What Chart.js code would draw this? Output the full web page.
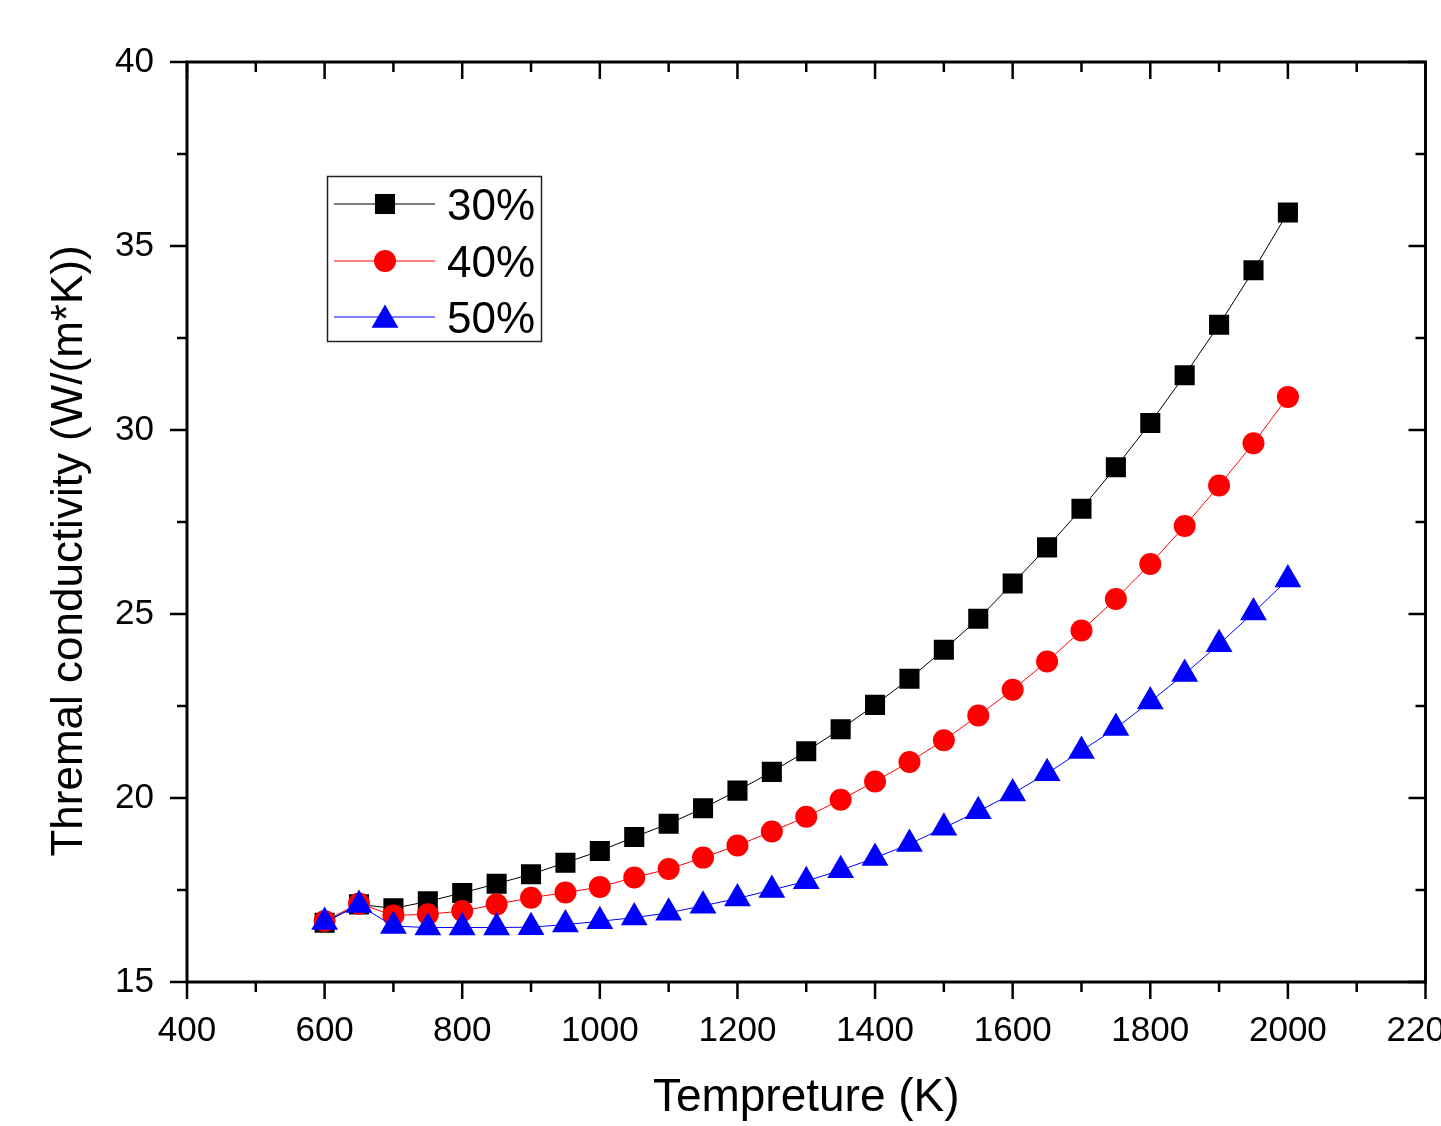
<!DOCTYPE html>
<html>
<head>
<meta charset="utf-8">
<script src="https://cdn.jsdelivr.net/npm/chart.js@4/dist/chart.umd.min.js"></script>
<style>
html,body{margin:0;padding:0;background:#fff;}
#wrap{width:1441px;height:1126px;position:relative;}
</style>
</head>
<body>
<div id="wrap"><canvas id="c" width="1441" height="1126"></canvas></div>
<script>
const temperatures = [600,650,700,750,800,850,900,950,1000,1050,1100,1150,1200,1250,1300,1350,1400,1450,1500,1550,1600,1650,1700,1750,1800,1850,1900,1950,2000];
const series30 = [16.61,17.11,17.00,17.19,17.42,17.67,17.93,18.24,18.56,18.94,19.30,19.72,20.20,20.71,21.27,21.87,22.53,23.24,24.03,24.87,25.83,26.81,27.86,28.99,30.19,31.49,32.86,34.34,35.91];
const series40 = [16.66,17.13,16.81,16.84,16.93,17.11,17.29,17.43,17.58,17.84,18.07,18.38,18.71,19.09,19.49,19.95,20.45,20.98,21.57,22.24,22.94,23.71,24.55,25.41,26.36,27.39,28.49,29.64,30.90];
const series50 = [16.63,17.09,16.52,16.48,16.48,16.48,16.49,16.56,16.65,16.75,16.88,17.07,17.27,17.50,17.74,18.04,18.37,18.75,19.19,19.64,20.12,20.67,21.28,21.90,22.62,23.37,24.18,25.04,25.94];
const seriesLabels = ['30%','40%','50%'];
const xTickValues = [400,600,800,1000,1200,1400,1600,1800,2000,2200];
const yTickValues = [15,20,25,30,35,40];
const xMinorValues = [500,700,900,1100,1300,1500,1700,1900,2100];
const yMinorValues = [17.5,22.5,27.5,32.5,37.5];
const xTitle = 'Tempreture (K)';
const yTitle = 'Thremal conductivity (W/(m*K))';

const FONT = 'Arial, "Liberation Sans", Helvetica, sans-serif';

function mk(arr){ return temperatures.map((t,i)=>({x:t,y:arr[i]})); }

const frameTicks = {
  id:'frameTicks',
  afterDatasetsDraw(chart){
    const {ctx, chartArea:a, scales:{x,y}} = chart;
    ctx.save();
    ctx.strokeStyle = '#000';
    ctx.lineWidth = 2.5;
    ctx.lineCap = 'butt';
    const MAJ = 17, MIN = 10;
    ctx.beginPath();
    xTickValues.forEach(v=>{
      const p = x.getPixelForValue(v);
      ctx.moveTo(p, a.bottom); ctx.lineTo(p, a.bottom+MAJ);
      ctx.moveTo(p, a.top); ctx.lineTo(p, a.top+MAJ);
    });
    xMinorValues.forEach(v=>{
      const p = x.getPixelForValue(v);
      ctx.moveTo(p, a.bottom); ctx.lineTo(p, a.bottom+MIN);
      ctx.moveTo(p, a.top); ctx.lineTo(p, a.top+MIN);
    });
    yTickValues.forEach(v=>{
      const p = y.getPixelForValue(v);
      ctx.moveTo(a.left, p); ctx.lineTo(a.left-MAJ, p);
      ctx.moveTo(a.right, p); ctx.lineTo(a.right-MAJ, p);
    });
    yMinorValues.forEach(v=>{
      const p = y.getPixelForValue(v);
      ctx.moveTo(a.left, p); ctx.lineTo(a.left-MIN, p);
      ctx.moveTo(a.right, p); ctx.lineTo(a.right-MIN, p);
    });
    ctx.stroke();
    ctx.lineWidth = 3;
    ctx.strokeRect(a.left, a.top, a.right-a.left, a.bottom-a.top);
    ctx.restore();
  }
};

const yTitlePlugin = {
  id:'yTitlePlugin',
  afterDraw(chart){
    const ctx = chart.ctx;
    ctx.save();
    ctx.translate(82, 551);
    ctx.rotate(-Math.PI/2);
    ctx.fillStyle = '#000';
    ctx.font = '44px ' + FONT;
    ctx.textAlign = 'center';
    ctx.textBaseline = 'alphabetic';
    ctx.fillText(yTitle, 0, 0);
    ctx.restore();
  }
};

const boxLegend = {
  id:'boxLegend',
  afterDraw(chart){
    const ctx = chart.ctx;
    ctx.save();
    ctx.strokeStyle = '#222';
    ctx.lineWidth = 1.5;
    ctx.strokeRect(327.5, 176.5, 214, 165);
    const rowsY = [204, 261, 317];
    seriesLabels.forEach((lab,i)=>{
      const ds = chart.data.datasets.find(d=>d.label===lab);
      const yy = rowsY[i];
      ctx.strokeStyle = ds.borderColor;
      ctx.lineWidth = 1;
      ctx.beginPath(); ctx.moveTo(334, yy); ctx.lineTo(435, yy); ctx.stroke();
      ctx.fillStyle = ds.pointBackgroundColor;
      ctx.strokeStyle = ds.pointBorderColor;
      const ry = ds.pointStyle === 'triangle' ? yy + 3 : yy;
      Chart.helpers.drawPoint(ctx, {pointStyle: ds.pointStyle, radius: ds.pointRadius, borderWidth: 0, rotation: 0}, 385, ry);
      ctx.fillStyle = '#000';
      ctx.font = '44px ' + FONT;
      ctx.textBaseline = 'alphabetic';
      ctx.textAlign = 'left';
      ctx.fillText(lab, 447, yy + 16);
    });
    ctx.restore();
  }
};

new Chart(document.getElementById('c'), {
  type:'line',
  data:{
    datasets:[
      {label:seriesLabels[2], data:mk(series50), borderColor:'#0000ff', backgroundColor:'#0000ff', pointBackgroundColor:'#0000ff', pointBorderColor:'#0000ff', borderWidth:1, pointStyle:'triangle', pointRadius:15.5, pointBorderWidth:0, tension:0, order:1},
      {label:seriesLabels[1], data:mk(series40), borderColor:'#ff0000', backgroundColor:'#ff0000', pointBackgroundColor:'#ff0000', pointBorderColor:'#ff0000', borderWidth:1, pointStyle:'circle', pointRadius:11, pointBorderWidth:0, tension:0, order:2},
      {label:seriesLabels[0], data:mk(series30), borderColor:'#000000', backgroundColor:'#000000', pointBackgroundColor:'#000000', pointBorderColor:'#000000', borderWidth:1, pointStyle:'rect', pointRadius:14.2, pointBorderWidth:0, tension:0, order:3}
    ]
  },
  options:{
    responsive:false,
    animation:false,
    devicePixelRatio:1,
    layout:{padding:{left:0, top:62, right:13, bottom:0}},
    plugins:{legend:{display:false}, tooltip:{enabled:false}},
    scales:{
      x:{
        type:'linear', min:400, max:2200,
        afterBuildTicks(s){ s.ticks = xTickValues.map(v=>({value:v})); },
        afterFit(s){ s.height = 144; s.paddingLeft = 0; s.paddingRight = 0; },
        grid:{display:false, drawTicks:false}, border:{display:false},
        ticks:{color:'#000', font:{family:FONT, size:35}, padding:28, maxRotation:0, autoSkip:false, callback:v=>String(v)},
        title:{display:true, text:xTitle, color:'#000', font:{family:FONT, size:46, lineHeight:1.2}, padding:{top:0,bottom:0}}
      },
      y:{
        type:'linear', min:15, max:40,
        afterBuildTicks(s){ s.ticks = yTickValues.map(v=>({value:v})); },
        afterFit(s){ s.width = 187; s.paddingTop = 0; s.paddingBottom = 0; },
        grid:{display:false, drawTicks:false}, border:{display:false},
        ticks:{color:'#000', font:{family:FONT, size:35}, padding:33, autoSkip:false, callback:v=>String(v)},
        title:{display:false}
      }
    }
  },
  plugins:[frameTicks, yTitlePlugin, boxLegend]
});
</script>
</body>
</html>
